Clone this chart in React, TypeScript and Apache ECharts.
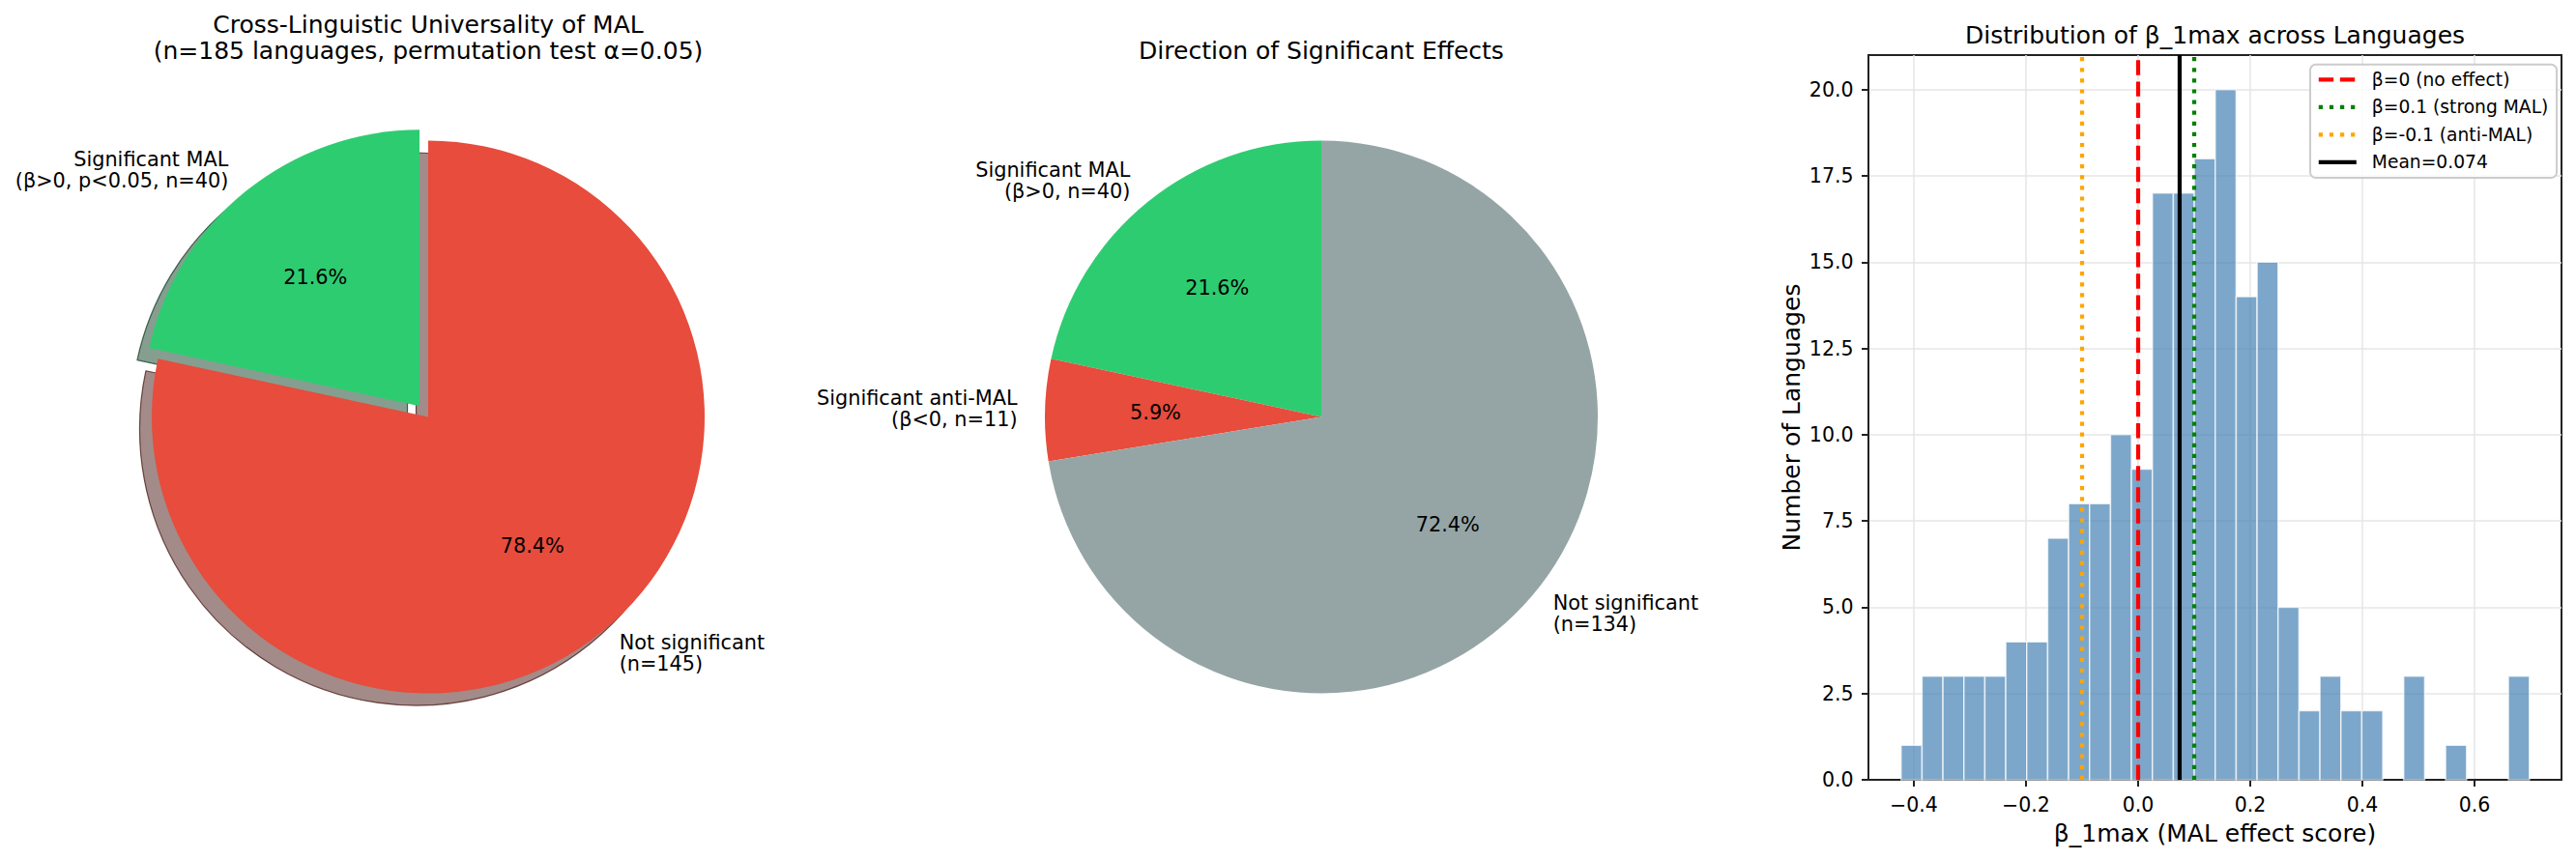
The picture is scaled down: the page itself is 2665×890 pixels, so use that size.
import React, { useEffect, useRef } from 'react';
import * as echarts from 'echarts';

const FONT = '"DejaVu Sans", sans-serif';

// ---------- Pie 1 data ----------
const pie1Names = ['Significant MAL\n(β>0, p<0.05, n=40)', 'Not significant\n(n=145)'];
const pie1Values = [40, 145];
const pie1Colors = ['#2ecc71', '#e74c3c'];
const pie1ShadowColors = ['rgba(14,61,34,0.5)', 'rgba(69,23,18,0.5)'];
const pie1ShadowEdges = ['rgba(14,61,34,0.75)', 'rgba(69,23,18,0.75)'];
const pie1Explode = [true, false];

// ---------- Pie 2 data ----------
const pie2Names = ['Significant MAL\n(β>0, n=40)', 'Significant anti-MAL\n(β<0, n=11)', 'Not significant\n(n=134)'];
const pie2Values = [40, 11, 134];
const pie2Colors = ['#2ecc71', '#e74c3c', '#95a5a6'];

// ---------- Histogram data ----------
const histBinStart = -0.4228;
const histBinWidth = 0.03735;
const histCounts = [1, 3, 3, 3, 3, 4, 4, 7, 8, 8, 10, 9, 17, 17, 18, 20, 14, 15, 5, 2, 3, 2, 2, 0, 3, 0, 1, 0, 0, 3];

const refLineNames = ['β=0 (no effect)', 'β=0.1 (strong MAL)', 'β=-0.1 (anti-MAL)', 'Mean=0.074'];
const refLineValues = [0, 0.1, -0.1, 0.074];
const refLineColors = ['#ff0000', '#008000', '#ffa500', '#000000'];
const refLineDashes: any[] = [[15.4, 6.7], [4.2, 6.9], [4.2, 6.9], 'solid'];

const xTicks = [-0.4, -0.2, 0, 0.2, 0.4, 0.6];
const yTicks = [0, 2.5, 5, 7.5, 10, 12.5, 15, 17.5, 20];
const xMin = -0.481;
const xMax = 0.755;
const yMax = 21;

// ---------- Layout ----------
const R = 286;
const pie1Center = [443, 431.5];
const pie2Center = [1367, 431.5];
const EXPLODE = 0.05 * R;
const SHADOW = 12.5;

const labelFont = { fontSize: 20.8, lineHeight: 22, color: '#000', fontFamily: FONT };

function pieBase(center: number[], extra: any) {
  return {
    type: 'pie',
    center,
    radius: R,
    clockwise: false,
    startAngle: 90,
    avoidLabelOverlap: false,
    selectedMode: 'single',
    selectedOffset: EXPLODE,
    emphasis: { disabled: true },
    animation: false,
    ...extra,
  };
}

function pctFormatter(values: number[]) {
  const total = values.reduce((a, b) => a + b, 0);
  return (p: any) => ((p.value / total) * 100).toFixed(1) + '%';
}

function buildPie(center: number[], names: string[], values: number[], colors: string[], explode: boolean[]) {
  const main = pieBase(center, {
    z: 2,
    data: values.map((v, i) => ({ value: v, name: names[i], selected: explode[i], itemStyle: { color: colors[i], borderWidth: 0 } })),
    label: { show: true, position: 'outside', formatter: '{b}', distanceToLabelLine: 0, ...labelFont },
    labelLine: { show: false, length: 0.1 * R, length2: 0 },
  });
  const pct = pieBase(center, {
    z: 3,
    silent: true,
    radius: [150, 187.2],
    data: values.map((v, i) => ({ value: v, name: names[i] + ' pct', selected: explode[i], itemStyle: { color: 'rgba(0,0,0,0)', borderWidth: 0 } })),
    label: { show: true, position: 'inside', formatter: pctFormatter(values), textBorderWidth: 0, ...labelFont },
    labelLine: { show: false },
  });
  return [main, pct];
}

const fmtX = (v: number) => (v < 0 ? '\u2212' : '') + Math.abs(v).toFixed(1);

export default function App() {
  const ref = useRef<HTMLDivElement>(null);
  useEffect(() => {
    document.body.style.margin = '0';
    if (!ref.current) return;
    const chart = echarts.init(ref.current, null, { renderer: 'svg' });

    const histData = histCounts.map((c, i) => [histBinStart + i * histBinWidth, histBinStart + (i + 1) * histBinWidth, c]);

    const shadowSeries = pieBase([pie1Center[0] - SHADOW, pie1Center[1] + SHADOW], {
      z: 1,
      silent: true,
      data: pie1Values.map((v, i) => ({
        value: v, name: pie1Names[i] + ' shadow', selected: pie1Explode[i],
        itemStyle: { color: pie1ShadowColors[i], borderWidth: 1.2, borderColor: pie1ShadowEdges[i] },
      })),
      label: { show: false },
      labelLine: { show: false },
    });

    const axisColor = '#222';
    const titleStyle = { fontSize: 25, lineHeight: 27.5, fontWeight: 'normal', color: '#000', fontFamily: FONT };
    const option: any = {
      animation: false,
      backgroundColor: '#ffffff',
      textStyle: { fontFamily: FONT },
      title: [
        {
          text: 'Cross-Linguistic Universality of MAL\n(n=185 languages, permutation test α=0.05)',
          left: pie1Center[0], top: 11.5, textAlign: 'center', padding: 0, textStyle: titleStyle,
        },
        {
          text: 'Direction of Significant Effects',
          left: pie2Center[0], top: 38.9, textAlign: 'center', padding: 0, textStyle: titleStyle,
        },
        {
          text: 'Distribution of β_1max across Languages',
          left: 2291.5, top: 22.5, textAlign: 'center', padding: 0, textStyle: titleStyle,
        },
      ],
      legend: {
        data: refLineNames,
        orient: 'vertical',
        left: 2390,
        top: 66.7,
        itemWidth: 39,
        itemHeight: 19,
        itemGap: 9.5,
        padding: [6.1, 8.7, 6.8, 6.7],
        backgroundColor: 'rgba(255,255,255,0.8)',
        borderColor: '#cccccc',
        borderWidth: 2,
        borderRadius: 6,
        selectedMode: false,
        textStyle: { fontSize: 18.7, lineHeight: 19, color: '#000', fontFamily: FONT, padding: [0, 0, 0, 11] },
        lineStyle: { width: 4.2 },
        itemStyle: { opacity: 0 },
      },
      grid: { left: 1933, top: 57, width: 717, height: 750, show: true, borderColor: axisColor, borderWidth: 2, backgroundColor: 'transparent', containLabel: false },
      xAxis: {
        type: 'value', min: xMin, max: xMax, splitNumber: 6,
        axisLine: { show: true, onZero: false, lineStyle: { color: axisColor, width: 2 } },
        axisTick: { show: true, length: 7, lineStyle: { color: axisColor, width: 2 }, customValues: xTicks },
        axisLabel: { customValues: xTicks, formatter: fmtX, fontSize: 20.5, color: '#000', margin: 15.5, fontFamily: FONT },
        splitLine: { show: true, lineStyle: { color: '#e6e6e6', width: 1.5 } },
        name: 'β_1max (MAL effect score)', nameLocation: 'middle', nameGap: 43,
        nameTextStyle: { fontSize: 25, color: '#000', fontFamily: FONT },
      },
      yAxis: {
        type: 'value', min: 0, max: yMax, interval: 2.5,
        axisLine: { show: true, onZero: false, lineStyle: { color: axisColor, width: 2 } },
        axisTick: { show: true, length: 7, lineStyle: { color: axisColor, width: 2 }, customValues: yTicks },
        axisLabel: { customValues: yTicks, formatter: (v: number) => v.toFixed(1), fontSize: 20.5, color: '#000', margin: 15.5, fontFamily: FONT },
        splitLine: { show: true, lineStyle: { color: '#e6e6e6', width: 1.5 } },
        name: 'Number of Languages', nameLocation: 'middle', nameGap: 67.5, nameRotate: 90,
        nameTextStyle: { fontSize: 25, color: '#000', fontFamily: FONT },
      },
      series: [
        shadowSeries,
        ...buildPie(pie1Center, pie1Names, pie1Values, pie1Colors, pie1Explode),
        ...buildPie(pie2Center, pie2Names, pie2Values, pie2Colors, pie2Values.map(() => false)),
        {
          type: 'custom',
          name: 'hist',
          silent: true,
          z: 2,
          encode: { x: [0, 1], y: 2 },
          data: histData,
          renderItem: (params: any, api: any) => {
            const c = api.value(2);
            if (!c) return null;
            const p0 = api.coord([api.value(0), c]);
            const p1 = api.coord([api.value(1), 0]);
            return {
              type: 'rect',
              shape: { x: p0[0], y: p0[1], width: p1[0] - p0[0], height: p1[1] - p0[1] },
              style: { fill: 'rgba(70,130,180,0.7)', stroke: 'rgba(255,255,255,0.7)', lineWidth: 1.5 },
            };
          },
        },
        ...refLineNames.map((name, i) => ({
          type: 'line',
          name,
          data: [[refLineValues[i], 0], [refLineValues[i], yMax]],
          symbol: 'none',
          symbolSize: 0,
          showSymbol: false,
          silent: true,
          z: 5 + i,
          lineStyle: { color: refLineColors[i], width: 4.2, type: refLineDashes[i], cap: 'butt' },
          itemStyle: { color: refLineColors[i] },
        })),
      ],
    };
    chart.setOption(option);
    return () => chart.dispose();
  }, []);
  return <div ref={ref} style={{ width: 2665, height: 890 }} />;
}
